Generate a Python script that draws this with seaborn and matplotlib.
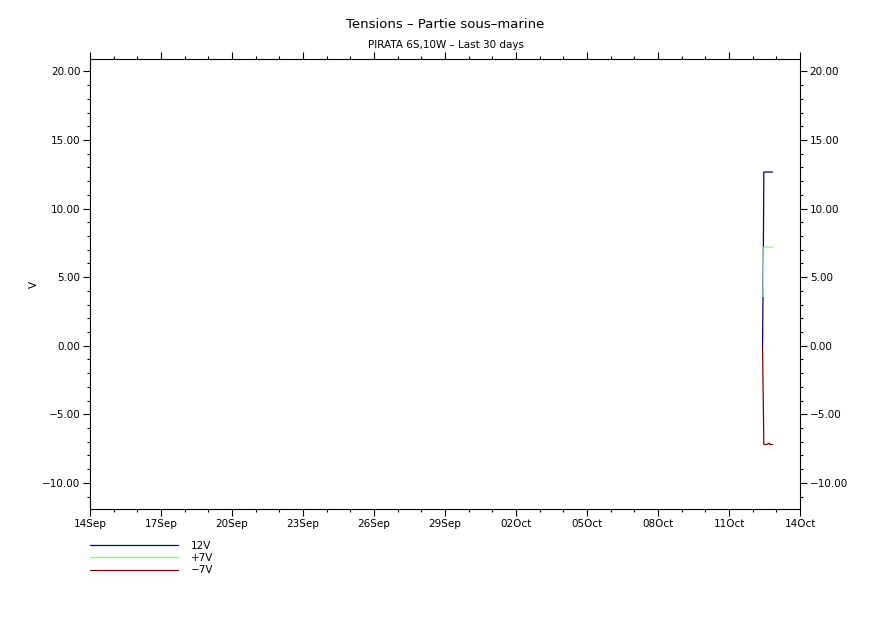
import matplotlib
matplotlib.use("Agg")
import matplotlib.pyplot as plt
import matplotlib.dates as mdates
from matplotlib.ticker import MultipleLocator, FuncFormatter
from matplotlib.lines import Line2D
import seaborn as sns
import pandas as pd

# ---- data ----
times = ["2023-10-12 10:00", "2023-10-12 10:40", "2023-10-12 11:20",
         "2023-10-12 14:00", "2023-10-12 17:00", "2023-10-12 17:40",
         "2023-10-12 20:10"]
v_12 = [0.0, 5.0, 12.66, 12.66, 12.66, 12.66, 12.66]
v_p7 = [3.6, 3.6, 7.19, 7.19, 7.19, 7.19, 7.19]
v_m7 = [0.0, -3.56, -7.2, -7.2, -7.1, -7.2, -7.2]
series_names = ["12V", "+7V", "\u22127V"]
series_colors = ["#000080", "#80ff80", "#800000"]
x_start, x_end = "2023-09-14", "2023-10-14"

rows = []
for name, vals in zip(series_names, [v_12, v_p7, v_m7]):
    for t, v in zip(times, vals):
        rows.append({"time": pd.Timestamp(t), "V": v, "series": name})
df = pd.DataFrame(rows)

sns.set_style("ticks")
plt.rcParams["font.family"] = ["DejaVu Sans"]
plt.rcParams["text.color"] = "black"
plt.rcParams["axes.labelcolor"] = "black"
plt.rcParams["xtick.color"] = "black"
plt.rcParams["ytick.color"] = "black"

fig = plt.figure(figsize=(8.91, 6.3), dpi=100)
ax = fig.add_axes([90 / 891, 1 - 509 / 630, 710 / 891, 450 / 630])

sns.lineplot(data=df, x="time", y="V", hue="series", hue_order=series_names,
             palette=dict(zip(series_names, series_colors)), ax=ax,
             linewidth=0.9, estimator=None, sort=False, legend=False)

ax.set_xlim(pd.Timestamp(x_start), pd.Timestamp(x_end))
ax.set_ylim(-11.9, 20.9)

ax.xaxis.set_major_locator(mdates.DayLocator(bymonthday=[14, 17, 20, 23, 26, 29, 2, 5, 8, 11]))
ax.xaxis.set_minor_locator(mdates.DayLocator())
ax.xaxis.set_major_formatter(mdates.DateFormatter("%d%b"))
ax.yaxis.set_major_locator(MultipleLocator(5))
ax.yaxis.set_minor_locator(MultipleLocator(1))
ax.yaxis.set_major_formatter(FuncFormatter(lambda v, p: f"{v:.2f}".replace("-", "\u2212")))

for sp in ax.spines.values():
    sp.set_linewidth(0.8)
    sp.set_color("black")
ax.tick_params(which="both", direction="out", top=True, right=True,
               labelright=True, color="black", labelcolor="black", width=0.8)
ax.tick_params(which="major", length=5, labelsize=7.5, pad=2)
ax.tick_params(which="minor", length=2.5)
ax.set_xlabel("")
ax.set_ylabel("V", fontsize=7.5, labelpad=2, color="black")

fig.text(0.5, 1 - 25 / 630, "Tensions \u2013 Partie sous\u2013marine",
         ha="center", va="center", fontsize=9.5, color="black")
fig.text(0.5, 1 - 45 / 630, "PIRATA 6S,10W \u2013 Last 30 days",
         ha="center", va="center", fontsize=7.5, color="black")

# legend
handles = [Line2D([], [], color=c, linewidth=0.9) for c in series_colors]
leg = fig.legend(handles, series_names, loc="upper left",
                 bbox_to_anchor=(90 / 891, 1 - 541 / 630), frameon=False,
                 fontsize=7.5, handlelength=8.4, handletextpad=1.3,
                 labelspacing=0.2, borderpad=0, borderaxespad=0)
for t in leg.get_texts():
    t.set_color("black")

fig.savefig("out.png", dpi=100, facecolor="white")
